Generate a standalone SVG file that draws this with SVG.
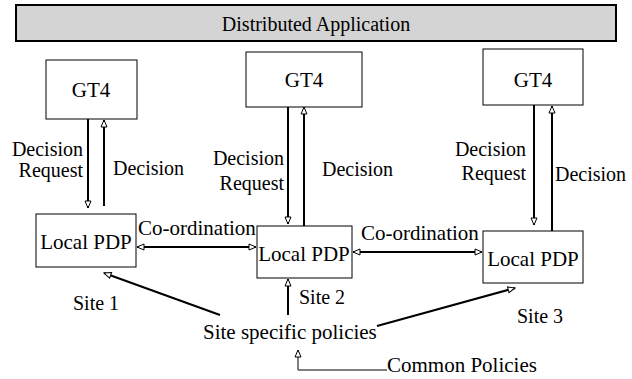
<svg xmlns="http://www.w3.org/2000/svg" width="632" height="379" viewBox="0 0 632 379">
<style>
text{font-family:"Liberation Serif","Times New Roman",serif;font-size:21px;fill:#000}
.d{font-size:20px}
.box{fill:#fff;stroke:#000;stroke-width:1}
.ln{fill:none;stroke:#000;stroke-width:2}
.thin{fill:none;stroke:#000;stroke-width:1}
</style>
<defs>
<marker id="ah" markerUnits="userSpaceOnUse" markerWidth="9" markerHeight="8" refX="7" refY="3" orient="auto-start-reverse" viewBox="-1 -1 9 8">
<path d="M0,0 L7,3 L0,6 z" fill="#fff" stroke="#000" stroke-width="1"/>
</marker>
</defs>
<g id="banner">
<rect x="16" y="5" width="600" height="36" fill="#d4d4d4" stroke="#000" stroke-width="2"/>
<text x="316" y="31" text-anchor="middle" class="d">Distributed Application</text>
</g>
<g id="gt4-1"><rect class="box" x="46" y="60" width="91" height="59"/><text x="91" y="97" text-anchor="middle">GT4</text></g>
<g id="gt4-2"><rect class="box" x="246" y="52" width="116" height="55"/><text x="304" y="87" text-anchor="middle">GT4</text></g>
<g id="gt4-3"><rect class="box" x="483" y="49" width="100" height="56"/><text x="533" y="87" text-anchor="middle">GT4</text></g>
<g id="pdp-1"><rect class="box" x="36" y="214" width="100" height="53"/><text x="86" y="249" text-anchor="middle">Local PDP</text></g>
<g id="pdp-2"><rect class="box" x="257" y="226" width="95" height="52"/><text x="304" y="261" text-anchor="middle">Local PDP</text></g>
<g id="pdp-3"><rect class="box" x="483" y="231" width="100" height="52"/><text x="533" y="266" text-anchor="middle">Local PDP</text></g>
<g id="policies"><text x="203" y="339">Site specific policies</text></g>
<g id="common"><text x="387" y="372">Common Policies</text></g>
<g id="connectors">
<line class="ln" x1="88" y1="119" x2="88" y2="208" marker-end="url(#ah)"/>
<line class="ln" x1="104" y1="206" x2="104" y2="120" marker-end="url(#ah)"/>
<line class="ln" x1="288" y1="107" x2="288" y2="224" marker-end="url(#ah)"/>
<line class="ln" x1="304" y1="226" x2="304" y2="107" marker-end="url(#ah)"/>
<line class="ln" x1="534" y1="105" x2="534" y2="225" marker-end="url(#ah)"/>
<line class="ln" x1="552" y1="231" x2="552" y2="106" marker-end="url(#ah)"/>
<line class="ln" x1="137" y1="247" x2="256" y2="247" marker-start="url(#ah)" marker-end="url(#ah)"/>
<line class="ln" x1="353" y1="252" x2="482" y2="252" marker-start="url(#ah)" marker-end="url(#ah)"/>
<line class="ln" x1="220" y1="315" x2="104" y2="273" marker-end="url(#ah)"/>
<line class="ln" x1="288" y1="315" x2="288" y2="279" marker-end="url(#ah)"/>
<line class="ln" x1="377" y1="326" x2="515" y2="288" marker-end="url(#ah)"/>
<polyline class="thin" points="387,370 298,370 298,350" marker-end="url(#ah)"/>
<text x="83" y="156" text-anchor="end" class="d">Decision</text>
<text x="83" y="177" text-anchor="end" class="d">Request</text>
<text x="113" y="175" class="d">Decision</text>
<text x="284" y="165" text-anchor="end" class="d">Decision</text>
<text x="284" y="190" text-anchor="end" class="d">Request</text>
<text x="322" y="176" class="d">Decision</text>
<text x="526" y="156" text-anchor="end" class="d">Decision</text>
<text x="526" y="180" text-anchor="end" class="d">Request</text>
<text x="555" y="181" class="d">Decision</text>
<text x="138" y="235">Co-ordination</text>
<text x="361" y="240">Co-ordination</text>
<text x="73" y="310" class="d">Site 1</text>
<text x="299" y="304" class="d">Site 2</text>
<text x="517" y="323" class="d">Site 3</text>
</g>
</svg>
